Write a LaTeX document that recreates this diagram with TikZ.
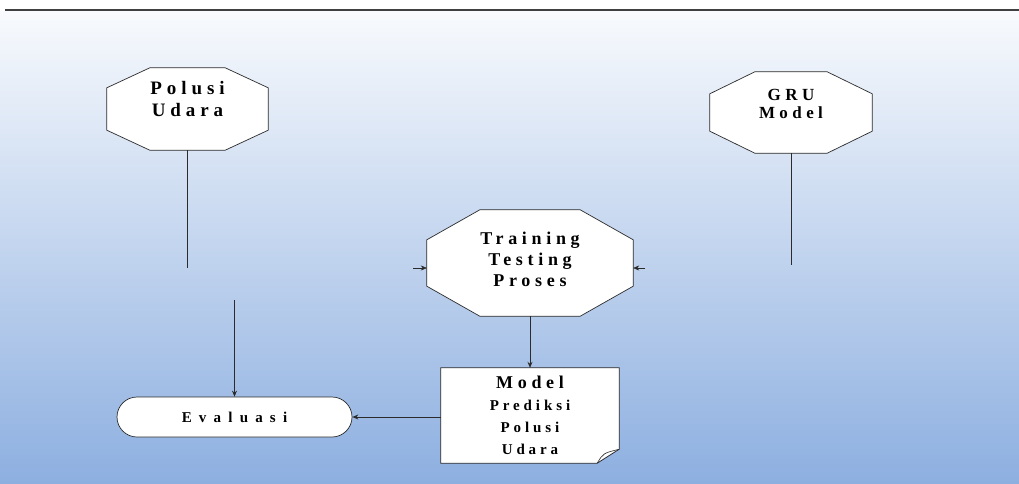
\documentclass[tikz,border=0pt]{standalone}
\usepackage{fontspec}
\setmainfont{Liberation Serif}
\newfontfamily\diafont{Liberation Serif}[LetterSpace=26]
\newfontfamily\largefont{Liberation Serif}[LetterSpace=48]
\definecolor{FondHaut}{HTML}{F8FAFD}
\definecolor{FondBas}{HTML}{8DAFE0}
\definecolor{Trait}{HTML}{2B2B2B}
\usetikzlibrary{arrows.meta,backgrounds}

% Octogone autour d'un noeud : nom, chanfrein x, chanfrein y
\newcommand{\octogone}[3]{%
	\draw[octobord] ([xshift=#2]#1.north west) -- ([xshift=-#2]#1.north east) -- ([yshift=-#3]#1.north east) -- ([yshift=#3]#1.south east)
		-- ([xshift=-#2]#1.south east) -- ([xshift=#2]#1.south west) -- ([yshift=#3]#1.south west) -- ([yshift=-#3]#1.north west) -- cycle;}

\begin{document}
\begin{tikzpicture}[x=1pt, y=1pt,
		every node/.style={font=\diafont\bfseries\fontsize{19}{22}\selectfont, align=center},
		octo/.style={rectangle, inner sep=0pt},
		octobord/.style={draw=Trait, fill=white, line width=0.7pt},
		fleche/.style={-{Stealth[length=6pt,width=5pt]}, draw=Trait, line width=0.8pt},
		ligne/.style={draw=Trait, line width=0.8pt}]
		% Fond dégradé et filet du haut
		\useasboundingbox (0,0) rectangle (1019,483);
		\begin{scope}[on background layer]
			\shade[top color=FondHaut, bottom color=FondBas] (0,0) rectangle (1019,471);
		\end{scope}
		\draw[Trait!90, line width=2.2pt] (5,473) -- (1019,473);

		% Blocs octogonaux
		\node[octo, minimum width=161pt, minimum height=82pt, text depth=20pt] (polusi) at (187.5,374) {Polusi\\Udara};
		\node[octo, minimum width=162pt, minimum height=81pt, text depth=18pt, font=\diafont\bfseries\fontsize{17}{18}\selectfont] (gru) at (791,370.5) {GRU\\Model};
		\node[octo, minimum width=206pt, minimum height=106pt, text depth=8pt, font=\diafont\bfseries\fontsize{18}{21}\selectfont] (train) at (530,220) {Training\\Testing\\Proses};

		% Evaluasi et document final
		\node[draw=Trait, fill=white, line width=0.7pt, rounded corners=20pt, minimum width=235pt, minimum height=40pt, font=\largefont\bfseries\fontsize{15}{17}\selectfont] (eval) at (234.5,66) {Evaluasi};
		\node[minimum width=178pt, minimum height=95pt, font=\diafont\bfseries\fontsize{15}{22}\selectfont] (model) at (530,67.5) {{\fontsize{18}{22}\selectfont Model}\\Prediksi\\Polusi\\Udara};

		\begin{scope}[on background layer]
			\octogone{polusi}{43pt}{20pt}
			\octogone{gru}{45pt}{22pt}
			\octogone{train}{53pt}{30pt}
			% coin replié du document
			\fill[white, draw=Trait, line width=0.8pt] (model.north west) -- (model.north east) -- ([yshift=14pt]model.south east) -- ([xshift=-22pt]model.south east) -- (model.south west) -- cycle;
			\draw[Trait, line width=0.6pt] ([xshift=-22pt]model.south east) .. controls ([xshift=-16pt,yshift=10pt]model.south east) .. ([yshift=14pt]model.south east);
		\end{scope}

		% Liaisons
		\coordinate (finpolusi) at (187.5,215);
		\coordinate (fingru) at (791,218);
		\coordinate (debeval) at (234.5,183);
		\coordinate (tg) at (413,215);
		\coordinate (td) at (645,215);
		\draw[ligne] (polusi.south) -- (finpolusi);
		\draw[ligne] (gru.south) -- (fingru);
		\draw[fleche] (debeval) -- (eval.north);
		\draw[fleche] (train.south) -- (model.north);
		\draw[fleche] (model.west |- eval.east) -- (eval.east);
		\draw[fleche, line width=0.5pt] (tg) -- (train.west |- tg);
		\draw[fleche, line width=0.5pt] (td) -- (train.east |- td);
	\end{tikzpicture}
\end{document}
